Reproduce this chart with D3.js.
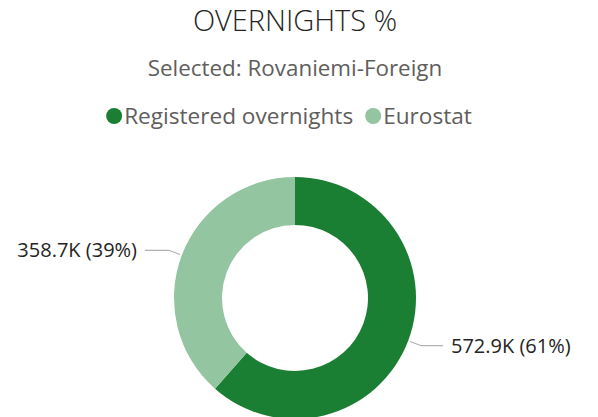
<!DOCTYPE html>
<html>
<head>
<meta charset="utf-8">
<script src="https://cdn.jsdelivr.net/npm/d3@7"></script>
<style>
  html, body { margin: 0; padding: 0; background: #fff; overflow: hidden; }
  svg { display: block; font-family: "Open Sans", "Noto Sans", sans-serif; }
</style>
</head>
<body>
<svg id="chart" width="598" height="417"></svg>
<script>
const titleText = "OVERNIGHTS %";
const subtitleText = "Selected: Rovaniemi-Foreign";
const categories = ["Registered overnights", "Eurostat"];
const values = [572.9, 358.7];          // thousands
const labels = ["572.9K (61%)", "358.7K (39%)"];
const colors = ["#1a7f32", "#93c5a0"];

const svg = d3.select("#chart");
const cx = 295, cy = 298, outerR = 121, innerR = 73;

// Title & subtitle
svg.append("text").attr("x", cx).attr("y", 31).attr("text-anchor", "middle")
  .attr("font-size", 29).attr("fill", "#252423").attr("font-weight", 300)
  .text(titleText);
svg.append("text").attr("x", cx).attr("y", 76).attr("text-anchor", "middle")
  .attr("font-size", 22.4).attr("fill", "#605e5c")
  .text(subtitleText);

// Legend
const legend = svg.append("g");
let lx = 0;
categories.forEach((c, i) => {
  const g = legend.append("g").attr("transform", `translate(${lx},0)`);
  g.append("circle").attr("cx", 8).attr("cy", 0).attr("r", 8).attr("fill", colors[i]);
  const t = g.append("text").attr("x", 18).attr("y", 8).attr("font-size", 22.6)
    .attr("fill", "#605e5c").text(c);
  lx += 18 + t.node().getComputedTextLength() + 12;
});
const legendW = lx - 12;
legend.attr("transform", `translate(${289 - legendW / 2},116)`);

// Donut
const pie = d3.pie().sort(null).value(d => d);
const arcs = pie(values);
const arc = d3.arc().innerRadius(innerR).outerRadius(outerR);
const g = svg.append("g").attr("transform", `translate(${cx},${cy})`);
g.selectAll("path.slice").data(arcs).enter().append("path")
  .attr("class", "slice").attr("d", arc).attr("fill", (d, i) => colors[i]);

// Leader lines & labels
arcs.forEach((d, i) => {
  const a = (d.startAngle + d.endAngle) / 2;
  const p0 = [Math.sin(a) * (outerR + 2), -Math.cos(a) * (outerR + 2)];
  const p1 = [Math.sin(a) * (outerR + 14), -Math.cos(a) * (outerR + 14)];
  const right = Math.sin(a) > 0;
  const p2 = [right ? 148 : -150, p1[1]];
  g.append("polyline").attr("points", [p0, p1, p2].map(p => p.join(",")).join(" "))
    .attr("fill", "none").attr("stroke", "#b3b0ad").attr("stroke-width", 1.2);
  g.append("text").attr("x", right ? 156 : -158).attr("y", p1[1] + 7)
    .attr("text-anchor", right ? "start" : "end").attr("font-size", 20)
    .attr("fill", "#252423").text(labels[i]);
});
</script>
</body>
</html>
